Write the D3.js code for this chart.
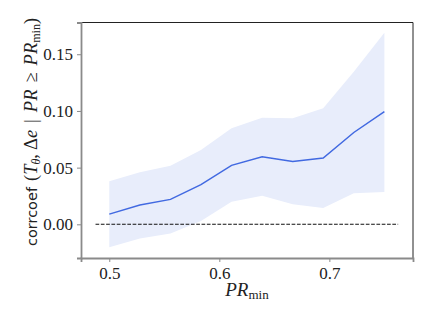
<!DOCTYPE html>
<html>
<head>
<meta charset="utf-8">
<script src="https://cdn.jsdelivr.net/npm/d3@7"></script>
<style>
  body { margin: 0; background: #fff; }
  svg { display: block; }
</style>
</head>
<body>
<svg id="chart" width="436" height="327"></svg>
<script>
// PR_min thresholds
const prMin = [0.5, 0.5278, 0.5556, 0.5833, 0.6111, 0.6389, 0.6667, 0.6944, 0.7222, 0.75];
// mean corrcoef and its band
const corrMean = [0.009, 0.017, 0.022, 0.035, 0.052, 0.0595, 0.0555, 0.0585, 0.081, 0.0995];
const corrHigh = [0.038, 0.046, 0.0517, 0.0655, 0.0847, 0.094, 0.0935, 0.1023, 0.1346, 0.169];
const corrLow = [-0.0203, -0.0124, -0.008, 0.003, 0.020, 0.0253, 0.0176, 0.0144, 0.0273, 0.0285];
const xTicks = [0.5, 0.6, 0.7];
const yTicks = [0.00, 0.05, 0.10, 0.15];
const zeroLine = [0.4875, 0.7625];

const svg = d3.select("#chart");
const mLeft = 81, mRight = 413, mTop = 22.5, mBottom = 258;

const x = d3.scaleLinear().domain([0.4743, 0.776]).range([mLeft, mRight]);
const y = d3.scaleLinear().domain([-0.0297, 0.178]).range([mBottom, mTop]);

const pts = prMin.map((p, i) => ({x: p, m: corrMean[i], lo: corrLow[i], hi: corrHigh[i]}));

// band
svg.append("path")
  .datum(pts)
  .attr("fill", "#e8edfb")
  .attr("d", d3.area().x(d => x(d.x)).y0(d => y(d.lo)).y1(d => y(d.hi)));

// zero reference
svg.append("line")
  .attr("x1", x(zeroLine[0])).attr("x2", x(zeroLine[1]))
  .attr("y1", y(0)).attr("y2", y(0))
  .attr("stroke", "#111").attr("stroke-width", 1.1)
  .attr("stroke-dasharray", "3.7,1.6");

// mean line
svg.append("path")
  .datum(pts)
  .attr("fill", "none")
  .attr("stroke", "#4169e1")
  .attr("stroke-width", 1.5)
  .attr("d", d3.line().x(d => x(d.x)).y(d => y(d.m)));

// spines: top/right dark, left/bottom gray
svg.append("line").attr("x1", mLeft).attr("x2", mRight).attr("y1", mTop).attr("y2", mTop)
  .attr("stroke", "#222").attr("stroke-width", 1);
svg.append("line").attr("x1", mRight).attr("x2", mRight).attr("y1", mTop).attr("y2", mBottom)
  .attr("stroke", "#222").attr("stroke-width", 1);

const serif = "Liberation Serif";

const yAxis = svg.append("g")
  .attr("transform", `translate(${mLeft},0)`)
  .call(d3.axisLeft(y).tickValues(yTicks).tickFormat(d3.format(".2f")).tickSizeOuter(0).tickSize(4).tickPadding(4));
const xAxis = svg.append("g")
  .attr("transform", `translate(0,${mBottom})`)
  .call(d3.axisBottom(x).tickValues(xTicks).tickFormat(d3.format(".1f")).tickSizeOuter(0).tickSize(4).tickPadding(5));

[yAxis, xAxis].forEach(g => {
  g.attr("font-family", serif).attr("font-size", 17);
  g.select(".domain").attr("stroke", "#8a8a8a").attr("stroke-width", 1.8);
  g.selectAll(".tick line").attr("stroke", "#8a8a8a").attr("stroke-width", 1);
  g.selectAll(".tick text").attr("fill", "#222");
});

// x label
const xl = svg.append("text")
  .attr("x", 247).attr("y", 296)
  .attr("text-anchor", "middle")
  .attr("font-family", serif).attr("font-size", 19).attr("fill", "#222");
xl.append("tspan").attr("font-style", "italic").text("PR");
xl.append("tspan").attr("dy", 3).attr("font-size", 13).text("min");

// y label
const yl = svg.append("text")
  .attr("transform", "translate(37,132) rotate(-90)")
  .attr("text-anchor", "middle")
  .attr("font-family", serif).attr("font-size", 18.5).attr("fill", "#222");
yl.append("tspan").attr("font-family", "DejaVu Sans").attr("font-size", 14.5).text("corrcoef");
yl.append("tspan").attr("dx", 6).text("(");
yl.append("tspan").attr("font-style", "italic").text("T");
yl.append("tspan").attr("dy", 3).attr("font-style", "italic").attr("font-size", 12).text("θ");
yl.append("tspan").attr("dy", -3).text(",");
yl.append("tspan").attr("dx", 4).text("Δ");
yl.append("tspan").attr("font-style", "italic").text("e");
yl.append("tspan").attr("dx", 7).text("|");
yl.append("tspan").attr("dx", 7).attr("font-style", "italic").text("PR");
yl.append("tspan").attr("dx", 7).text("≥");
yl.append("tspan").attr("dx", 7).attr("font-style", "italic").text("PR");
yl.append("tspan").attr("dy", 3).attr("font-size", 12).text("min");
yl.append("tspan").attr("dy", -3).text(")");
</script>
</body>
</html>
